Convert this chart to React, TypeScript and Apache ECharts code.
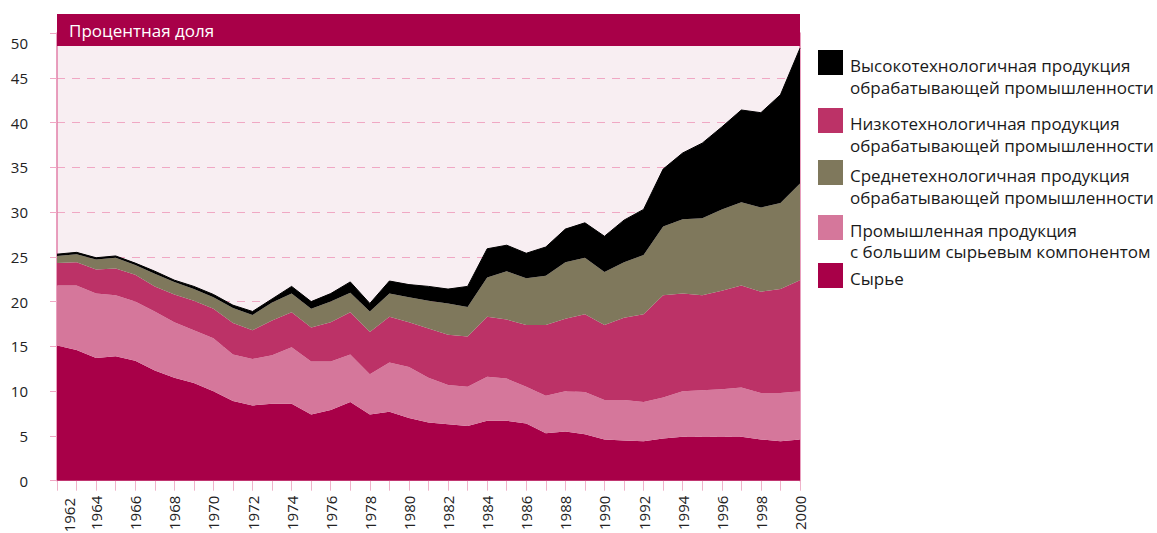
import React, { useEffect, useRef } from "react";
import * as echarts from "echarts";

const years: string[] = [];
for (let y = 1962; y <= 2000; y++) years.push(String(y));

const raw = [15.1, 14.6, 13.7, 13.9, 13.4, 12.3, 11.5, 10.9, 10.0, 8.9, 8.4, 8.6, 8.6, 7.4, 7.9, 8.8, 7.4, 7.7, 7.0, 6.5, 6.3, 6.1, 6.7, 6.7, 6.4, 5.3, 5.5, 5.2, 4.6, 4.5, 4.4, 4.7, 4.9, 4.9, 4.9, 4.9, 4.6, 4.4, 4.6];
const resource = [6.7, 7.2, 7.2, 6.8, 6.6, 6.6, 6.2, 5.9, 5.9, 5.2, 5.2, 5.4, 6.3, 5.9, 5.4, 5.3, 4.5, 5.5, 5.7, 5.0, 4.4, 4.4, 4.9, 4.7, 4.1, 4.2, 4.5, 4.7, 4.4, 4.5, 4.4, 4.6, 5.1, 5.2, 5.3, 5.5, 5.2, 5.4, 5.4];
const lowTech = [2.5, 2.6, 2.7, 3.0, 3.0, 2.8, 3.1, 3.3, 3.3, 3.5, 3.2, 3.9, 3.9, 3.8, 4.4, 4.7, 4.7, 5.1, 5.0, 5.5, 5.6, 5.6, 6.7, 6.6, 6.9, 7.9, 8.1, 8.7, 8.4, 9.2, 9.8, 11.4, 10.9, 10.6, 11.0, 11.4, 11.3, 11.6, 12.4];
const medTech = [0.8, 0.9, 1.1, 1.2, 1.1, 1.4, 1.4, 1.3, 1.3, 1.7, 1.7, 2.0, 2.1, 2.1, 2.3, 2.2, 2.3, 2.6, 2.8, 3.1, 3.5, 3.3, 4.4, 5.4, 5.2, 5.5, 6.3, 6.3, 5.9, 6.2, 6.6, 7.7, 8.3, 8.6, 9.1, 9.3, 9.4, 9.6, 10.8];
const highTech = [0.2, 0.2, 0.2, 0.2, 0.2, 0.3, 0.2, 0.3, 0.3, 0.3, 0.4, 0.4, 0.8, 0.8, 0.9, 1.2, 0.9, 1.4, 1.4, 1.6, 1.6, 2.3, 3.2, 2.9, 2.8, 3.2, 3.7, 3.9, 4.0, 4.7, 5.1, 6.4, 7.4, 8.4, 9.2, 10.3, 10.6, 12.1, 15.1];

const seriesNames = [
  "Сырье",
  "Промышленная продукция с большим сырьевым компонентом",
  "Низкотехнологичная продукция обрабатывающей промышленности",
  "Среднетехнологичная продукция обрабатывающей промышленности",
  "Высокотехнологичная продукция обрабатывающей промышленности",
];
const seriesColors = ["#a80048", "#d5779b", "#bc3267", "#7f785c", "#000000"];

const legendItems = [
  { lines: ["Высокотехнологичная продукция", "обрабатывающей промышленности"], color: "#000000" },
  { lines: ["Низкотехнологичная продукция", "обрабатывающей промышленности"], color: "#bc3267" },
  { lines: ["Среднетехнологичная продукция", "обрабатывающей промышленности"], color: "#7f785c" },
  { lines: ["Промышленная продукция", "с большим сырьевым компонентом"], color: "#d5779b" },
  { lines: ["Сырье"], color: "#a80048" },
];
const legendSquareTops = [50, 108, 160, 215, 263];
const legendLineYs = [[65, 87], [123, 145], [175, 197], [230, 251], [278]];

const titleText = "Процентная доля";
const FONT = "'Open Sans', 'Noto Sans', sans-serif";

export default function App() {
  const ref = useRef<HTMLDivElement>(null);
  useEffect(() => {
    if (!ref.current) return;
    const chart = echarts.init(ref.current, undefined, { renderer: "svg" });
    const data = [raw, resource, lowTech, medTech, highTech];

    const graphic: any[] = [
      { type: "rect", z: 100, shape: { x: 57, y: 14, width: 743, height: 32 }, style: { fill: "#a80048" } },
      { type: "text", z: 101, x: 69, y: 30, style: { text: titleText, fill: "#ffffff", font: `17px ${FONT}`, verticalAlign: "middle" } },
      { type: "text", z: 101, x: 28, y: 43, style: { text: "50", fill: "#222", font: `15px ${FONT}`, align: "right", verticalAlign: "middle" } },
      { type: "text", z: 101, x: 69, y: 498, rotation: Math.PI / 2, style: { text: years[0], fill: "#222", font: `15px ${FONT}`, align: "right", verticalAlign: "middle" } },
    ];
    legendItems.forEach((it, i) => {
      graphic.push({ type: "rect", shape: { x: 818, y: legendSquareTops[i], width: 25, height: 25 }, style: { fill: it.color } });
      it.lines.forEach((ln, j) => {
        graphic.push({ type: "text", x: 850, y: legendLineYs[i][j], style: { text: ln, fill: "#1a1a1a", font: `17px ${FONT}`, verticalAlign: "middle" } });
      });
    });

    chart.setOption({
      animation: false,
      backgroundColor: "#ffffff",
      grid: { left: 57, right: 357, top: 33, bottom: 50, show: true, backgroundColor: "#f8eef2", borderWidth: 0 },
      xAxis: {
        type: "category",
        boundaryGap: false,
        data: years,
        axisLine: { show: true, lineStyle: { color: "#e27fa8", width: 1 } },
        axisTick: { show: true, interval: 0, length: 10, lineStyle: { color: "#efb3ca", width: 1 } },
        axisLabel: {
          interval: 1,
          rotate: 90,
          margin: 15,
          color: "#222",
          fontSize: 15,
          fontFamily: FONT,
          formatter: (v: string) => (v === years[0] ? "" : v),
        },
        splitLine: { show: false },
      },
      yAxis: [
        {
          type: "value",
          min: 0,
          max: 50,
          interval: 5,
          axisLine: { show: true, lineStyle: { color: "#e27fa8", width: 1.5 } },
          axisTick: { show: true, length: 7, lineStyle: { color: "#f0a8c4", width: 1 } },
          axisLabel: {
            margin: 29,
            color: "#222",
            fontSize: 15,
            fontFamily: FONT,
            formatter: (v: number) => (v === 50 ? "" : String(v)),
          },
          splitLine: { show: true, lineStyle: { color: "#f0a8c4", width: 1, type: [8, 7] } },
        },
        {
          type: "value",
          min: 0,
          max: 50,
          interval: 5,
          position: "right",
          axisLine: { show: true, lineStyle: { color: "#e27fa8", width: 1.5 } },
          axisTick: { show: false },
          axisLabel: { show: false },
          splitLine: { show: false },
        },
      ],
      series: data.map((d, i) => ({
        name: seriesNames[i],
        type: "line",
        stack: "total",
        yAxisIndex: 0,
        data: d,
        symbol: "none",
        smooth: false,
        lineStyle: i === 4 ? { width: 1, color: "#000" } : { width: 0 },
        itemStyle: { color: seriesColors[i] },
        areaStyle: { color: seriesColors[i], opacity: 1 },
        z: 2,
      })),
      graphic,
    });
    return () => chart.dispose();
  }, []);
  return (
    <div
      ref={ref}
      style={{ position: "fixed", left: 0, top: 0, width: 1157, height: 533, background: "#fff" }}
    />
  );
}
